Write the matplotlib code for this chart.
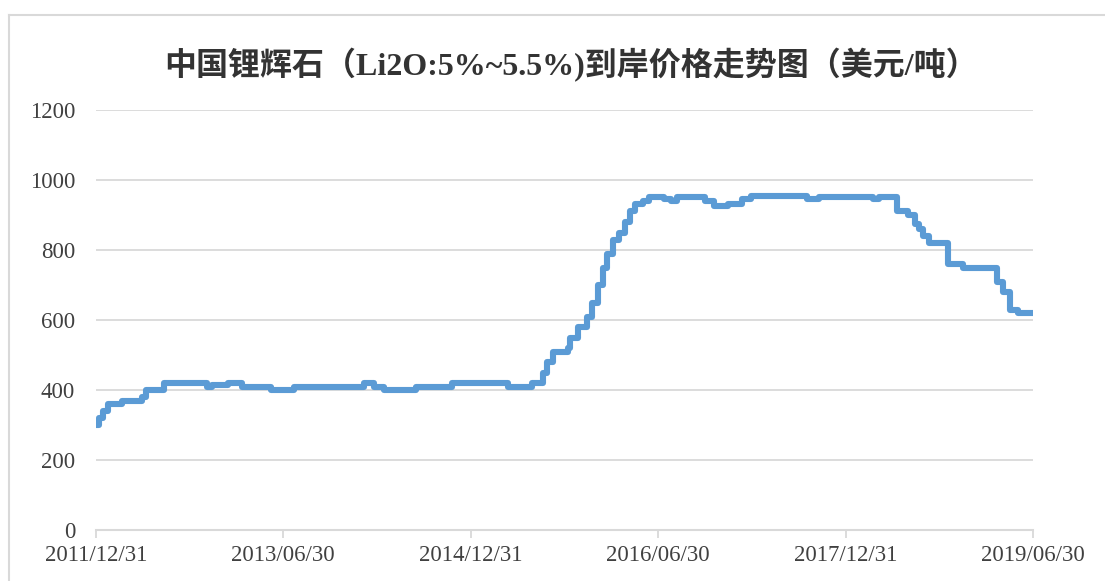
import matplotlib
matplotlib.use("Agg")
import matplotlib.pyplot as plt
import pandas as pd
from matplotlib.lines import Line2D

# price change points (date the new level starts), USD/t
dates = ["2011-12-31", "2012-01-09", "2012-01-20", "2012-02-04", "2012-03-16",
         "2012-05-14", "2012-05-26", "2012-07-17", "2012-11-19", "2012-12-04",
         "2013-01-20", "2013-03-02", "2013-05-25", "2013-08-01", "2014-02-21",
         "2014-03-22", "2014-04-21", "2014-07-23", "2014-11-05", "2015-04-18",
         "2015-06-27", "2015-07-29", "2015-08-10", "2015-08-27", "2015-10-10",
         "2015-10-16", "2015-11-08", "2015-12-05", "2015-12-19", "2016-01-06",
         "2016-01-20", "2016-02-01", "2016-02-19", "2016-03-07", "2016-03-25",
         "2016-04-08", "2016-04-23", "2016-05-16", "2016-06-03", "2016-07-17",
         "2016-08-06", "2016-08-24", "2016-11-14", "2016-12-10", "2017-01-20",
         "2017-03-02", "2017-03-28", "2017-09-08", "2017-10-13", "2018-03-19",
         "2018-04-06", "2018-05-29", "2018-06-30", "2018-07-20", "2018-08-01",
         "2018-08-13", "2018-08-30", "2018-10-25", "2018-12-07", "2019-03-17",
         "2019-04-03", "2019-04-24", "2019-05-17", "2019-06-30"]
prices = [300, 320, 340, 360, 370,
          380, 400, 420, 410, 415,
          420, 410, 400, 410, 420,
          410, 400, 410, 420, 410,
          420, 450, 480, 510, 520,
          550, 580, 610, 650, 700,
          750, 790, 830, 850, 880,
          910, 930, 940, 950, 945,
          940, 950, 940, 925, 930,
          945, 955, 945, 950, 945,
          950, 910, 900, 875, 860,
          840, 820, 760, 750, 710,
          680, 630, 620, 620]

tick_dates = ["2011-12-31", "2013-06-30", "2014-12-31", "2016-06-30", "2017-12-31", "2019-06-30"]
tick_labels = ["2011/12/31", "2013/06/30", "2014/12/31", "2016/06/30", "2017/12/31", "2019/06/30"]
yticks = [0, 200, 400, 600, 800, 1000, 1200]

title = "中国锂辉石（Li2O:5%~5.5%)到岸价格走势图（美元/吨）"

d = pd.to_datetime(dates)
td = pd.to_datetime(tick_dates)

fig = plt.figure(figsize=(11.05, 5.81), dpi=100)
ax = fig.add_axes([96 / 1105, 1 - 530 / 581, (1033 - 96) / 1105, (530 - 110) / 581])

ax.step(d, prices, where="post", color="#5B9BD5", linewidth=4.4,
        solid_joinstyle="round", solid_capstyle="round", zorder=3)

ax.set_ylim(0, 1200)
ax.set_yticks(yticks)
ax.set_xlim(td[0], td[-1])
ax.set_xticks(td)
ax.set_xticklabels(tick_labels)

ax.grid(axis="y", color="#d9d9d9", linewidth=1.3)
ax.set_axisbelow(True)
for s in ["top", "right", "left"]:
    ax.spines[s].set_visible(False)
ax.spines["bottom"].set_color("#d9d9d9")
ax.spines["bottom"].set_linewidth(1.5)

ax.tick_params(axis="y", length=0, pad=15, labelsize=16.5, labelcolor="#404040")
ax.tick_params(axis="x", length=6, width=1.3, color="#d9d9d9", pad=5,
               labelsize=16.5, labelcolor="#404040")
for lab in ax.get_xticklabels() + ax.get_yticklabels():
    lab.set_family("Liberation Serif")

fig.text(0.517, 1 - 65 / 581, title, ha="center", va="center", fontsize=23,
         fontweight="bold", color="#333333",
         family=["Liberation Serif", "Noto Sans CJK SC"])

# chart frame
fig.add_artist(Line2D([9 / 1105, 1], [1 - 15 / 581, 1 - 15 / 581], color="#d9d9d9", linewidth=1.5))
fig.add_artist(Line2D([9 / 1105, 9 / 1105], [0, 1 - 15 / 581], color="#d9d9d9", linewidth=1.5))

fig.savefig("out.png", dpi=100)
